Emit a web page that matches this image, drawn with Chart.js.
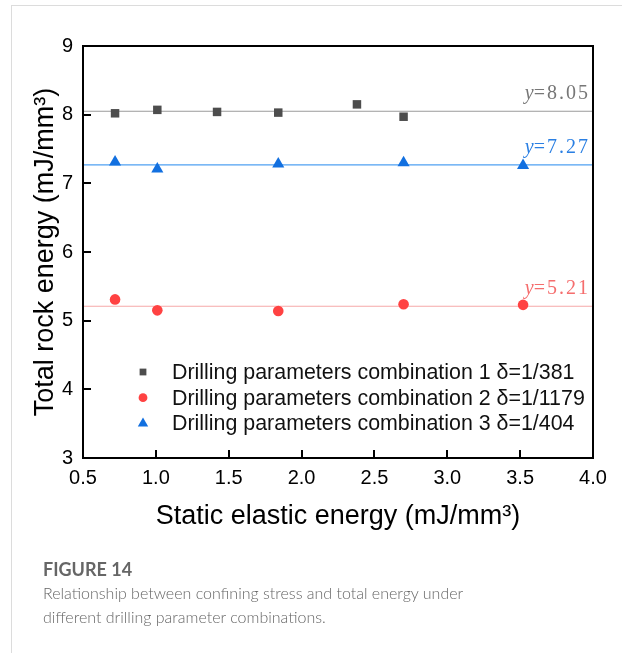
<!DOCTYPE html>
<html>
<head>
<meta charset="utf-8">
<script src="https://cdn.jsdelivr.net/npm/chart.js@4.4.1/dist/chart.umd.min.js"></script>
<style>
  body { margin: 0; background: #fff; }
  #frame { position: absolute; left: 11px; top: 5px; right: 0; bottom: 0; border-top: 1px solid #dcdcdc; border-left: 1px solid #dcdcdc; }
  #wrap { position: absolute; left: 0; top: 0; width: 622px; height: 560px; }
  #caption { position: absolute; left: 43px; top: 557px; font-family: Lato, "Open Sans", sans-serif; line-height: 24px; }
  #caption .fig { color: #666; font-weight: 700; font-size: 18px; }
  #caption .txt { color: #666; font-weight: 300; font-size: 16px; }
</style>
</head>
<body>
<div id="frame"></div>
<div id="wrap"><canvas id="chart"></canvas></div>
<div id="caption">
  <div class="fig">FIGURE 14</div>
  <div class="txt">Relationship between confining stress and total energy under<br>different drilling parameter combinations.</div>
</div>
<script>
// Data
const seriesNames = [
  "Drilling parameters combination 1 δ=1/381",
  "Drilling parameters combination 2 δ=1/1179",
  "Drilling parameters combination 3 δ=1/404"
];
const xCombo1 = [0.72, 1.01, 1.42, 1.84, 2.38, 2.70];
const yCombo1 = [8.02, 8.07, 8.04, 8.03, 8.15, 7.97];
const xCombo2 = [0.72, 1.01, 1.84, 2.70, 3.52];
const yCombo2 = [5.31, 5.15, 5.14, 5.24, 5.23];
const xCombo3 = [0.72, 1.01, 1.84, 2.70, 3.52];
const yCombo3 = [7.31, 7.21, 7.28, 7.30, 7.26];
const fitValues = [8.05, 5.21, 7.27];   // horizontal mean lines, same order as series
const xRange = [0.5, 4.0];
const yRange = [3, 9];

// Styles
const markerColors = ["#4d4d4d", "#ff4242", "#1270e0"];
const markerStyles = ["rect", "circle", "triangle"];
const markerSizes = [6, 5.3, 7];
const fitLineColors = ["#9a9a9a", "#f6a9a9", "#4fa0f2"];
const fitTextColors = ["#777777", "#f56d6d", "#2a7fe3"];
const AXIS_FONT = "'Liberation Sans', Arial, sans-serif";

const toPoints = (xs, ys) => xs.map((x, i) => ({ x: x, y: ys[i] }));
const seriesData = [
  toPoints(xCombo1, yCombo1),
  toPoints(xCombo2, yCombo2),
  toPoints(xCombo3, yCombo3)
];

const datasets = [];
seriesData.forEach((pts, i) => {
  datasets.push({
    label: seriesNames[i],
    data: pts,
    pointStyle: markerStyles[i],
    pointRadius: markerSizes[i],
    pointBackgroundColor: markerColors[i],
    pointBorderWidth: 0,
    borderColor: markerColors[i],
    showLine: false,
    order: 0
  });
});
fitValues.forEach((v, i) => {
  datasets.push({
    label: "fit" + i,
    data: [{ x: xRange[0], y: v }, { x: xRange[1], y: v }],
    showLine: true,
    borderColor: fitLineColors[i],
    borderWidth: 1.2,
    pointRadius: 0,
    order: 1
  });
});

// Legend inside the plot, lower left
const insideLegend = {
  id: "insideLegend",
  afterDatasetsDraw(chart) {
    const ctx = chart.ctx;
    const x0 = 143, y0 = 372, rowH = 25.7;
    const legendSizes = [4.8, 4.4, 6];
    ctx.save();
    ctx.font = "21.4px " + AXIS_FONT;
    ctx.textBaseline = "middle";
    ctx.textAlign = "left";
    seriesNames.forEach((name, i) => {
      const y = y0 + i * rowH;
      ctx.fillStyle = markerColors[i];
      Chart.helpers.drawPoint(ctx, { pointStyle: markerStyles[i], radius: legendSizes[i], rotation: 0, borderWidth: 0 }, x0, y);
      ctx.fillStyle = "#111";
      ctx.fillText(name, 172, y + 1);
    });
    ctx.restore();
  }
};

// y=... labels over each mean line
const fitLabels = {
  id: "fitLabels",
  afterDatasetsDraw(chart) {
    const ctx = chart.ctx;
    const yScale = chart.scales.y;
    const right = chart.chartArea.right - 5;
    ctx.save();
    ctx.textBaseline = "alphabetic";
    ctx.textAlign = "right";
    fitValues.forEach((v, i) => {
      const py = yScale.getPixelForValue(v) - 12;
      ctx.fillStyle = fitTextColors[i];
      ctx.font = "20px 'Liberation Serif', serif";
      ctx.letterSpacing = "2px";
      const rest = "=" + v.toFixed(2);
      ctx.fillText(rest, right + 2, py);
      const w = ctx.measureText(rest).width;
      ctx.letterSpacing = "0px";
      ctx.font = "italic 20px 'Liberation Serif', serif";
      ctx.fillText("y", right + 2 - w, py);
    });
    ctx.restore();
  }
};

// Box frame and inward ticks
const boxFrame = {
  id: "boxFrame",
  afterDraw(chart) {
    const ctx = chart.ctx;
    const a = chart.chartArea;
    const xs = chart.scales.x, ys = chart.scales.y;
    const tick = 8;
    ctx.save();
    ctx.strokeStyle = "#000";
    ctx.lineWidth = 2;
    ctx.beginPath();
    xs.ticks.forEach(t => {
      if (t.value <= xRange[0] || t.value >= xRange[1]) return;
      const px = Math.round(xs.getPixelForValue(t.value));
      ctx.moveTo(px, a.bottom);
      ctx.lineTo(px, a.bottom - tick);
    });
    ys.ticks.forEach(t => {
      if (t.value <= yRange[0] || t.value >= yRange[1]) return;
      const py = Math.round(ys.getPixelForValue(t.value));
      ctx.moveTo(a.left, py);
      ctx.lineTo(a.left + tick, py);
    });
    ctx.stroke();
    ctx.strokeRect(a.left, a.top, a.right - a.left, a.bottom - a.top);
    ctx.restore();
  }
};

new Chart(document.getElementById("chart"), {
  type: "scatter",
  data: { datasets: datasets },
  plugins: [insideLegend, fitLabels, boxFrame],
  options: {
    responsive: true,
    maintainAspectRatio: false,
    animation: false,
    events: [],
    layout: { padding: { top: 46, right: 29, bottom: 0, left: 0 } },
    plugins: {
      legend: { display: false },
      tooltip: { enabled: false }
    },
    scales: {
      x: {
        type: "linear",
        min: xRange[0],
        max: xRange[1],
        afterFit: s => { s.height = 102; },
        grid: { display: false, drawTicks: false },
        border: { display: false },
        ticks: {
          stepSize: 0.5,
          padding: 8,
          color: "#000",
          font: { family: AXIS_FONT, size: 20 },
          callback: v => v.toFixed(1)
        },
        title: {
          display: true,
          text: "Static elastic energy (mJ/mm³)",
          color: "#000",
          font: { family: AXIS_FONT, size: 27 },
          padding: { top: 0, bottom: 27 }
        }
      },
      y: {
        type: "linear",
        min: yRange[0],
        max: yRange[1],
        afterFit: s => { s.width = 83; },
        grid: { display: false, drawTicks: false },
        border: { display: false },
        ticks: {
          stepSize: 1,
          padding: 10,
          color: "#000",
          font: { family: AXIS_FONT, size: 20 }
        },
        title: {
          display: true,
          text: "Total rock energy (mJ/mm³)",
          color: "#000",
          font: { family: AXIS_FONT, size: 27 },
          padding: { top: 29, bottom: 0 }
        }
      }
    }
  }
});
</script>
</body>
</html>
